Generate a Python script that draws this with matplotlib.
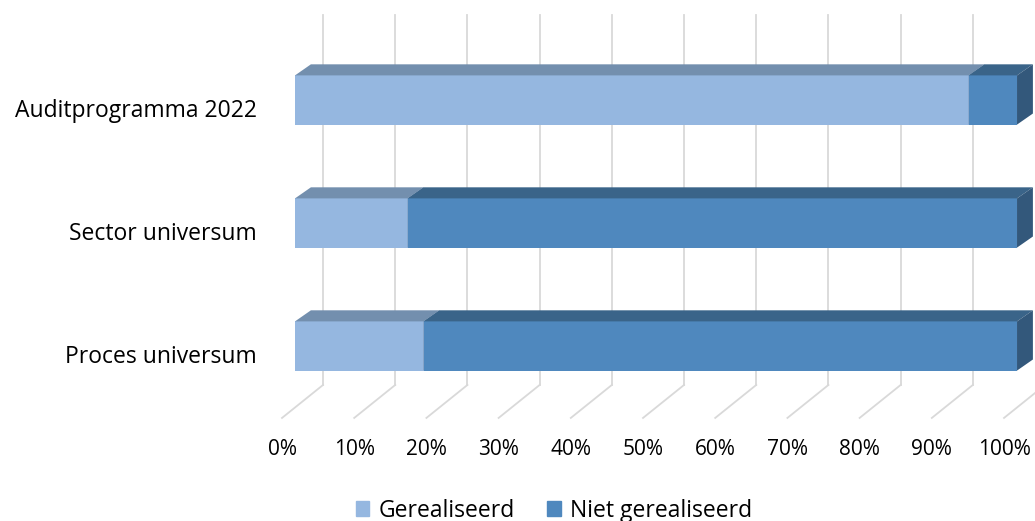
import matplotlib.pyplot as plt
from matplotlib.patches import Patch

categories = ["Proces universum", "Sector universum", "Auditprogramma 2022"]
gerealiseerd = [17.8, 15.6, 93.3]
niet_gerealiseerd = [82.2, 84.4, 6.7]
ticks = [0, 10, 20, 30, 40, 50, 60, 70, 80, 90, 100]

front_colors = ["#95b7e0", "#4f88be"]
top_colors = ["#738fae", "#3a6489"]
side_colors = ["#7390b0", "#33587b"]
grid_color = "#d9d9d9"

plt.rcParams['font.family'] = ['Open Sans', 'DejaVu Sans']

fig = plt.figure(figsize=(10.35, 5.21), dpi=100)
ax = fig.add_axes([0, 0, 1, 1])
ax.set_xlim(-40.86, 102.49)
ax.set_ylim(-1.423, 2.813)
ax.axis("off")

bh = 0.4          # bar height (category units)
bdx, bdy = 2.2, 0.09   # bar depth offsets
gx_back, gx_front = 3.88, -1.8
gy_top, gy_back, gy_front = 2.69, -0.317, -0.585

# back wall gridlines and floor lines
for t in ticks:
    ax.plot([t + gx_back, t + gx_back], [gy_top, gy_back], color=grid_color, lw=1.3, zorder=1)
    ax.plot([t + gx_back, t + gx_front], [gy_back, gy_front], color=grid_color, lw=1.3, zorder=1)
    ax.text(t + gx_front, -0.84, f"{t}%", ha="center", va="center", fontsize=15, color="#000000")

for i, cat in enumerate(categories):
    left = 0
    y0, y1 = i - bh / 2, i + bh / 2
    for j, vals in enumerate([gerealiseerd, niet_gerealiseerd]):
        w = vals[i]
        right = left + w
        ax.fill([left, right, right, left], [y0, y0, y1, y1], color=front_colors[j], lw=0, zorder=3)
        ax.fill([left, right, right + bdx, left + bdx], [y1, y1, y1 + bdy, y1 + bdy],
                color=top_colors[j], lw=0, zorder=3)
        ax.fill([right, right + bdx, right + bdx, right], [y0, y0 + bdy, y1 + bdy, y1],
                color=side_colors[j], lw=0, zorder=3)
        left = right
    ax.text(-5.3, i - 0.09, cat, ha="right", va="center", fontsize=16.5, color="#000000")

handles = [Patch(color=front_colors[0], label="Gerealiseerd"),
           Patch(color=front_colors[1], label="Niet gerealiseerd")]
fig.legend(handles=handles, loc="lower center", bbox_to_anchor=(0.535, -0.043), ncol=2,
           frameon=False, fontsize=16.5, handlelength=0.6, handleheight=0.6,
           handletextpad=0.4, columnspacing=1.4)

fig.savefig("out.png", dpi=100)
